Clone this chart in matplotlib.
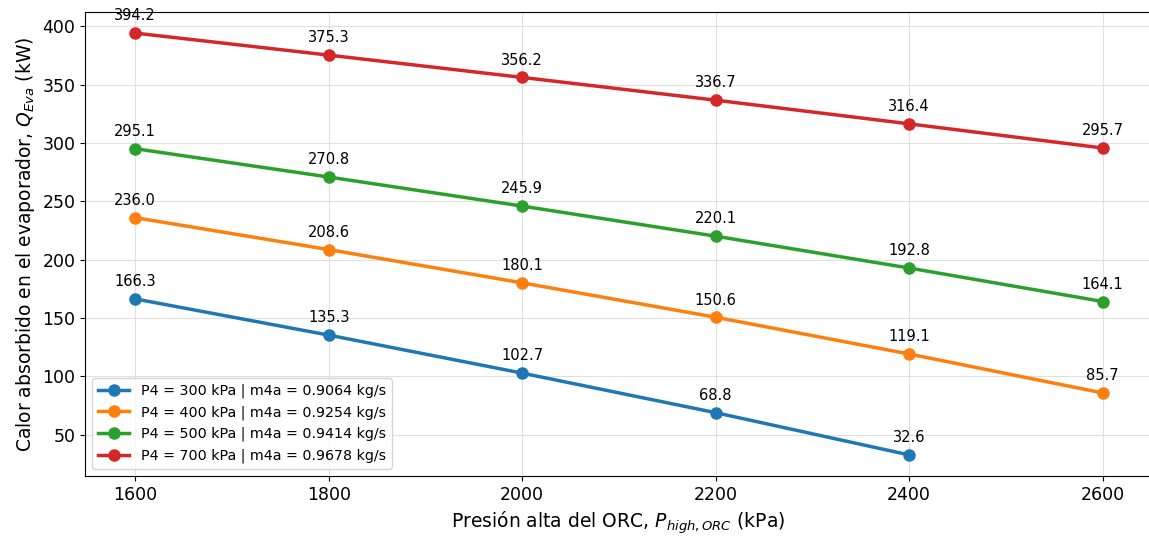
import matplotlib
matplotlib.use("Agg")
import matplotlib.pyplot as plt

# High pressure of the ORC (kPa)
p_high = [1600, 1800, 2000, 2200, 2400, 2600]

# Evaporator heat absorbed (kW) for each low-pressure case
q_300 = [166.3, 135.3, 102.7, 68.8, 32.6]
q_400 = [236.0, 208.6, 180.1, 150.6, 119.1, 85.7]
q_500 = [295.1, 270.8, 245.9, 220.1, 192.8, 164.1]
q_700 = [394.2, 375.3, 356.2, 336.7, 316.4, 295.7]

labels = [
    "P4 = 300 kPa | m4a = 0.9064 kg/s",
    "P4 = 400 kPa | m4a = 0.9254 kg/s",
    "P4 = 500 kPa | m4a = 0.9414 kg/s",
    "P4 = 700 kPa | m4a = 0.9678 kg/s",
]
series = [q_300, q_400, q_500, q_700]
colors = ["#1f77b4", "#ff7f0e", "#2ca02c", "#d62728"]

fig = plt.figure(figsize=(11.49, 5.36), dpi=100)
ax = fig.add_axes([85 / 1149, 1 - 476 / 536, 1066 / 1149, 464 / 536])

for vals, lab, col in zip(series, labels, colors):
    xs = p_high[:len(vals)]
    ax.plot(xs, vals, marker="o", linewidth=2.5, markersize=8, color=col, label=lab)
    for x, y in zip(xs, vals):
        ax.annotate(f"{y:.1f}", (x, y), textcoords="offset points", xytext=(0, 7),
                    ha="center", va="bottom", fontsize=10.5)

ax.set_xlim(1548, 2650)
ax.set_xticks([1600, 1800, 2000, 2200, 2400, 2600])
ax.set_yticks([50, 100, 150, 200, 250, 300, 350, 400])
ax.tick_params(labelsize=12.5)
ax.grid(True, color="#d9d9d9", linewidth=0.8, alpha=0.8)

ax.set_xlabel(r"Presión alta del ORC, $P_{high,ORC}$ (kPa)", fontsize=13.5)
ax.set_ylabel(r"Calor absorbido en el evaporador, $Q_{Eva}$ (kW)", fontsize=13.5)

ax.legend(loc="lower left", fontsize=10.3, framealpha=0.8, borderpad=0.4,
          handlelength=2.2, labelspacing=0.5)

fig.savefig("out.png", dpi=100)
